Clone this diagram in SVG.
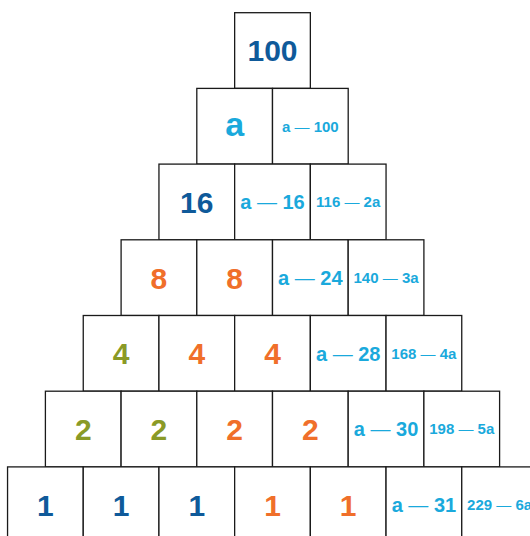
<svg xmlns="http://www.w3.org/2000/svg" width="530" height="536" viewBox="0 0 530 536">
<style>
rect{fill:#fff;stroke:#1a1a1a;stroke-width:1.3}
text{font-family:"Liberation Sans",Arial,sans-serif;font-weight:bold;text-anchor:middle}
.big{font-size:30px}
.mid{font-size:20px;fill:#1aa9dc}
.sm{font-size:15px;fill:#1aa9dc}
.d{font-weight:normal}
.b{fill:#0f5a9a}
.c{fill:#1aa9dc}
.o{fill:#f06f2a}
.g{fill:#8a9a26}
</style>
<rect width="530" height="536" style="fill:#fff;stroke:none"/>
<g id="r1b1"><rect x="234.65" y="12.7" width="75.7" height="75.7"/><text class="big b" x="272.5" y="61.3">100</text></g>
<g id="r2b1"><rect x="196.8" y="88.4" width="75.7" height="75.7"/><text class="c" style="font-size:34px" x="234.65" y="135.5">a</text></g>
<g id="r2b2"><rect x="272.5" y="88.4" width="75.7" height="75.7"/><text class="sm" x="310.35" y="131.6">a <tspan class="d">—</tspan> 100</text></g>
<g id="r3b1"><rect x="158.95" y="164.1" width="75.7" height="75.7"/><text class="big b" x="196.8" y="212.8">16</text></g>
<g id="r3b2"><rect x="234.65" y="164.1" width="75.7" height="75.7"/><text class="mid" x="272.5" y="209.1">a <tspan class="d">—</tspan> 16</text></g>
<g id="r3b3"><rect x="310.35" y="164.1" width="75.7" height="75.7"/><text class="sm" x="348.2" y="207.3">116 <tspan class="d">—</tspan> 2a</text></g>
<g id="r4b1"><rect x="121.1" y="239.8" width="75.7" height="75.7"/><text class="big o" x="158.95" y="288.5">8</text></g>
<g id="r4b2"><rect x="196.8" y="239.8" width="75.7" height="75.7"/><text class="big o" x="234.65" y="288.5">8</text></g>
<g id="r4b3"><rect x="272.5" y="239.8" width="75.7" height="75.7"/><text class="mid" x="310.35" y="284.8">a <tspan class="d">—</tspan> 24</text></g>
<g id="r4b4"><rect x="348.2" y="239.8" width="75.7" height="75.7"/><text class="sm" x="386.05" y="283">140 <tspan class="d">—</tspan> 3a</text></g>
<g id="r5b1"><rect x="83.25" y="315.5" width="75.7" height="75.7"/><text class="big g" x="121.1" y="364.2">4</text></g>
<g id="r5b2"><rect x="158.95" y="315.5" width="75.7" height="75.7"/><text class="big o" x="196.8" y="364.2">4</text></g>
<g id="r5b3"><rect x="234.65" y="315.5" width="75.7" height="75.7"/><text class="big o" x="272.5" y="364.2">4</text></g>
<g id="r5b4"><rect x="310.35" y="315.5" width="75.7" height="75.7"/><text class="mid" x="348.2" y="360.5">a <tspan class="d">—</tspan> 28</text></g>
<g id="r5b5"><rect x="386.05" y="315.5" width="75.7" height="75.7"/><text class="sm" x="423.9" y="358.7">168 <tspan class="d">—</tspan> 4a</text></g>
<g id="r6b1"><rect x="45.4" y="391.2" width="75.7" height="75.7"/><text class="big g" x="83.25" y="439.9">2</text></g>
<g id="r6b2"><rect x="121.1" y="391.2" width="75.7" height="75.7"/><text class="big g" x="158.95" y="439.9">2</text></g>
<g id="r6b3"><rect x="196.8" y="391.2" width="75.7" height="75.7"/><text class="big o" x="234.65" y="439.9">2</text></g>
<g id="r6b4"><rect x="272.5" y="391.2" width="75.7" height="75.7"/><text class="big o" x="310.35" y="439.9">2</text></g>
<g id="r6b5"><rect x="348.2" y="391.2" width="75.7" height="75.7"/><text class="mid" x="386.05" y="436.2">a <tspan class="d">—</tspan> 30</text></g>
<g id="r6b6"><rect x="423.9" y="391.2" width="75.7" height="75.7"/><text class="sm" x="461.75" y="434.4">198 <tspan class="d">—</tspan> 5a</text></g>
<g id="r7b1"><rect x="7.55" y="466.9" width="75.7" height="75.7"/><text class="big b" x="45.4" y="515.6">1</text></g>
<g id="r7b2"><rect x="83.25" y="466.9" width="75.7" height="75.7"/><text class="big b" x="121.1" y="515.6">1</text></g>
<g id="r7b3"><rect x="158.95" y="466.9" width="75.7" height="75.7"/><text class="big b" x="196.8" y="515.6">1</text></g>
<g id="r7b4"><rect x="234.65" y="466.9" width="75.7" height="75.7"/><text class="big o" x="272.5" y="515.6">1</text></g>
<g id="r7b5"><rect x="310.35" y="466.9" width="75.7" height="75.7"/><text class="big o" x="348.2" y="515.6">1</text></g>
<g id="r7b6"><rect x="386.05" y="466.9" width="75.7" height="75.7"/><text class="mid" x="423.9" y="511.9">a <tspan class="d">—</tspan> 31</text></g>
<g id="r7b7"><rect x="461.75" y="466.9" width="75.7" height="75.7"/><text class="sm" x="499.6" y="510.1">229 <tspan class="d">—</tspan> 6a</text></g>
<g id="connectors"/>
</svg>
